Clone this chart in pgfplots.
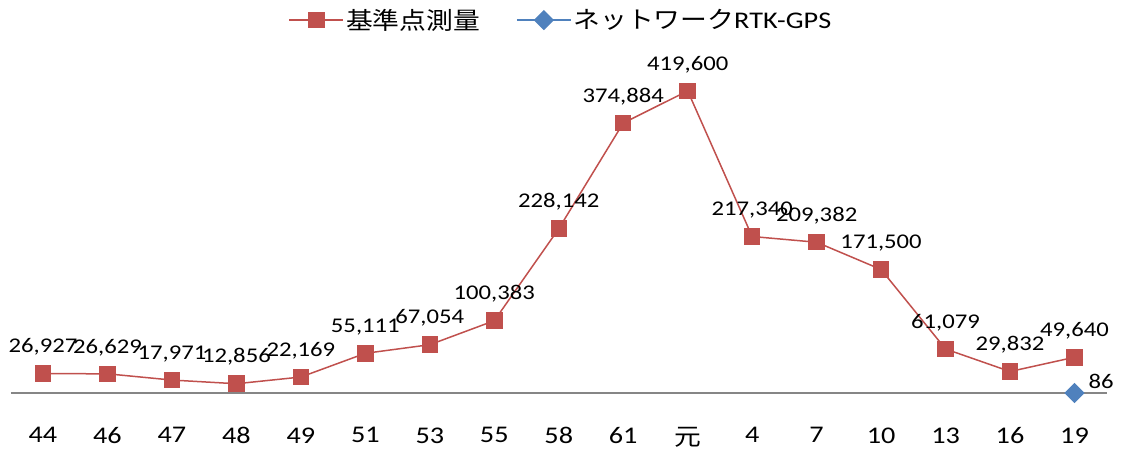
\documentclass[border=0pt]{standalone}
\usepackage{pgfplots}
\pgfplotsset{compat=1.18}
\usepackage{fontspec}
\setmainfont{Carlito}[FakeStretch=1.18]
\newfontfamily\cjk{Noto Sans CJK JP}[FakeStretch=1.12]
\definecolor{myred}{HTML}{C0504D}
\definecolor{myblue}{HTML}{4F81BD}
\definecolor{axgray}{HTML}{868686}
\begin{document}
\begin{tikzpicture}[x=1bp,y=1bp]
\useasboundingbox (-10.75,-57) rectangle (1114.25,393);
\begin{axis}[
  at={(0,0)}, anchor=south west,
  scale only axis, width=1096bp, height=324bp,
  xmin=-0.5, xmax=16.5, ymin=0, ymax=450000,
  clip=false,
  axis x line*=bottom, axis y line=none,
  x axis line style={axgray, line width=1.5bp},
  major tick length=0pt, ytick=\empty,
  xtick=data,
  xticklabels={44,46,47,48,49,51,53,55,58,61,{\cjk 元},4,7,10,13,16,19},
  xticklabel style={font=\fontsize{24}{28}\selectfont, yshift=-31bp},
  /pgf/number format/.cd, fixed, precision=0, 1000 sep={,}, assume math mode=true,
  /pgfplots/.cd,
  legend columns=2,
  legend style={draw=none, fill=none, at={(0.502,1.151)}, anchor=center,
    font=\fontsize{24}{28}\selectfont,
    /tikz/every even column/.append style={column sep=34bp}},
  legend image code/.code={\draw[mark repeat=2,mark phase=2,#1] plot coordinates {(0bp,0bp) (27bp,0bp) (54bp,0bp)};},
]
\addplot[myred, line width=1.5bp, mark=square*, mark size=7.5bp,
  mark options={fill=myred, draw=myred},
  nodes near coords,
  every node near coord/.style={font=\fontsize{21}{24}\selectfont, black, anchor=south, yshift=14bp}]
coordinates {
(0,26927) (1,26629) (2,17971) (3,12856) (4,22169) (5,55111) (6,67054) (7,100383)
(8,228142) (9,374884) (10,419600) (11,217340) (12,209382) (13,171500) (14,61079)
(15,29832) (16,49640)};
\addlegendentry{{\cjk 基準点測量}}
\addplot[myblue, line width=1.5bp, mark=square*, mark size=6.4bp,
  mark options={fill=myblue, draw=myblue, rotate=45},
  nodes near coords,
  every node near coord/.style={font=\fontsize{21}{24}\selectfont, black, anchor=west, xshift=10bp, yshift=12bp}]
coordinates {(16,86)};
\addlegendentry{{\cjk ネットワーク}RTK-GPS}
\end{axis}
\end{tikzpicture}
\end{document}
